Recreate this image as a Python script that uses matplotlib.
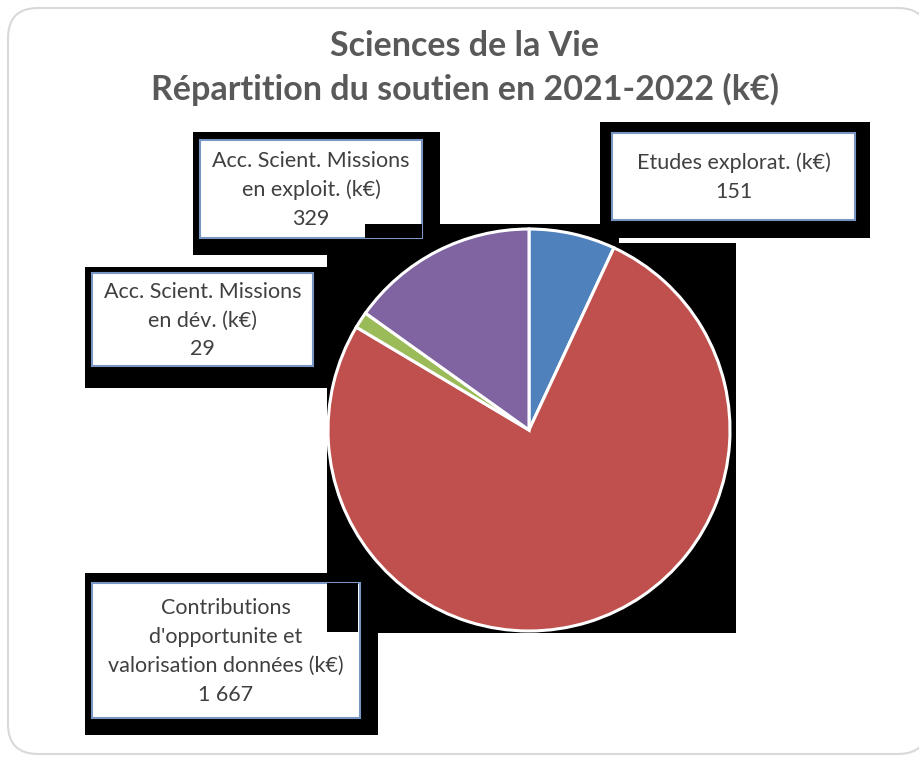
import matplotlib.pyplot as plt
from matplotlib.patches import Rectangle, FancyBboxPatch

plt.rcParams['font.family'] = ['Lato', 'DejaVu Sans']

# data
categories = ["Etudes explorat. (k€)",
              "Contributions\nd'opportunite et\nvalorisation données (k€)",
              "Acc. Scient. Missions\nen dév. (k€)",
              "Acc. Scient. Missions\nen exploit. (k€)"]
values = [151, 1667, 29, 329]
colors = ['#4F81BD', '#C0504D', '#9BBB59', '#8064A2']
title = "Sciences de la Vie\nRépartition du soutien en 2021-2022 (k€)"

W, H = 919, 760
fig = plt.figure(figsize=(W / 100, H / 100), dpi=100)

bg = fig.add_axes([0, 0, 1, 1])
bg.set_xlim(0, W)
bg.set_ylim(H, 0)
bg.axis('off')

def rect(x0, y0, x1, y1, **kw):
    bg.add_patch(Rectangle((x0, y0), x1 - x0, y1 - y0, **kw))

# outer chart frame
bg.add_patch(FancyBboxPatch((8, 8), 920, 746, boxstyle="round,pad=0,rounding_size=30",
                            facecolor='white', edgecolor='#D9D9D9', lw=1.5, zorder=0))

# black shadows / plot area artefacts
for x0, y0, x1, y1 in [(193, 132, 440, 255), (600, 122, 870, 238),
                       (85, 267, 327, 388), (85, 573, 378, 735),
                       (327, 224, 736, 633)]:
    rect(x0, y0, x1, y1, facecolor='black', edgecolor='none', zorder=1)
rect(619, 238, 736, 243, facecolor='white', edgecolor='none', zorder=1.5)

# label boxes: (x0, y0, x1, y1) in pixels, same order as categories
boxes = [(612, 133, 855, 220), (92, 583, 360, 718), (92, 273, 313, 366), (200, 140, 422, 238)]
for (x0, y0, x1, y1), cat, v in zip(boxes, categories, values):
    rect(x0, y0, x1, y1, facecolor='white', edgecolor='#7895C4', lw=1.5, zorder=2)
    txt = cat + "\n" + f"{v:,}".replace(",", " ")
    bg.text((x0 + x1) / 2, (y0 + y1) / 2 + 1, txt, ha='center', va='center',
            fontsize=15.5, color='#404040', linespacing=1.55, zorder=4)

# black patches drawn over boxes
rect(327, 583, 358, 632, facecolor='black', edgecolor='none', zorder=3)
rect(365, 224, 422, 238, facecolor='black', edgecolor='none', zorder=3)

bg.text(465, 68, title, ha='center', va='center', fontsize=24.5, fontweight='bold',
        color='#595959', linespacing=1.42)

# pie
cx, cy, r = 529, 430, 201
pax = fig.add_axes([(cx - r) / W, (H - cy - r) / H, 2 * r / W, 2 * r / H])
pax.pie(values, colors=colors, startangle=90, counterclock=False,
        wedgeprops=dict(edgecolor='white', linewidth=2.2))
pax.set_xlim(-1, 1)
pax.set_ylim(-1, 1)
pax.set_aspect('auto')
pax.patch.set_visible(False)
pax.axis('off')

fig.savefig('out.png', dpi=100)
